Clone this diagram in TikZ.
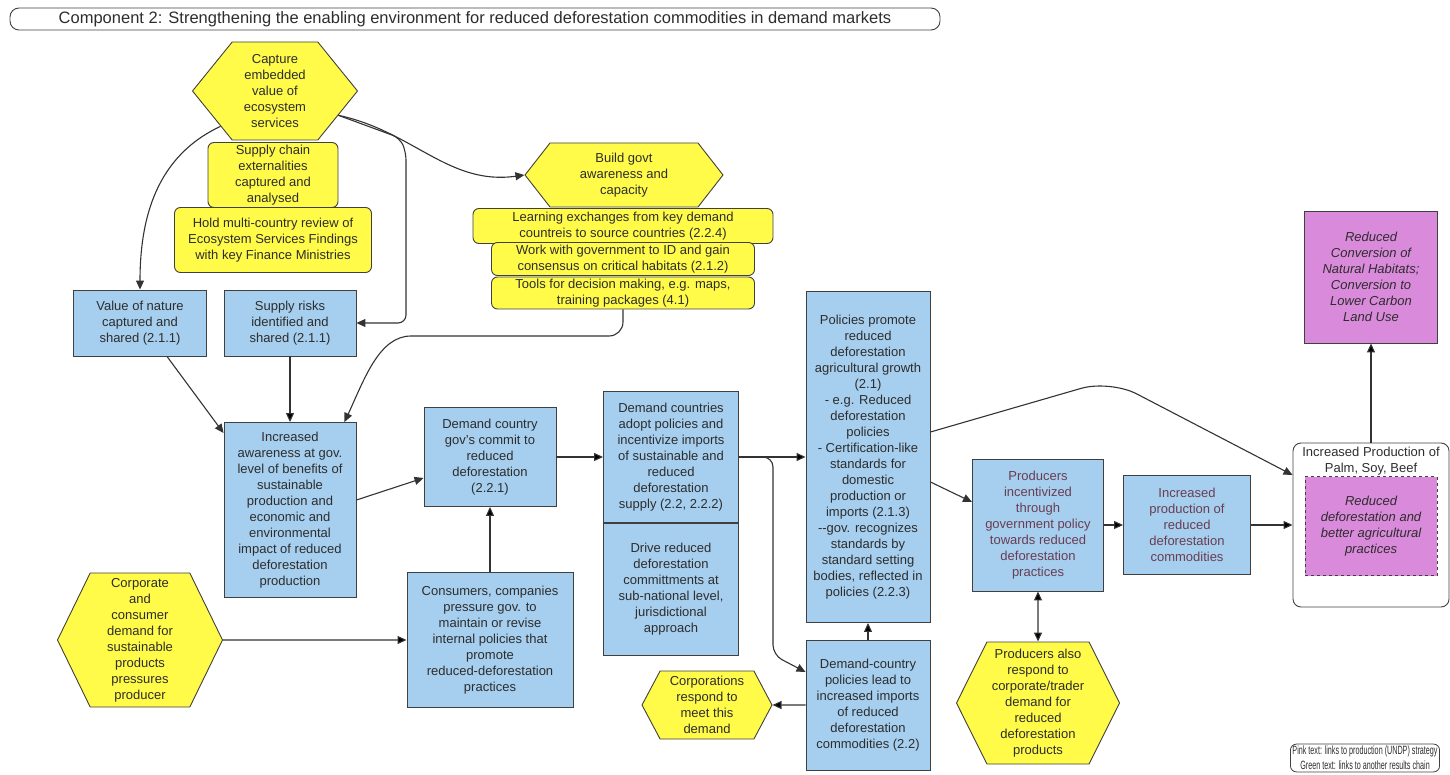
\documentclass[tikz,border=0pt]{standalone}
\usepackage{fontspec}
\setmainfont{Liberation Sans}
\usetikzlibrary{arrows.meta,shapes.symbols}
\definecolor{boxblue}{RGB}{166,206,238}
\definecolor{hexyellow}{RGB}{255,251,72}
\definecolor{outpink}{RGB}{218,138,218}
\definecolor{inktext}{RGB}{45,45,45}
\definecolor{pinkink}{RGB}{105,62,82}
\tikzset{
	bluebox/.style={draw=black!75, fill=boxblue, line width=0.9pt, align=center, inner sep=2pt, text=inktext},
	yelbox/.style={draw=black!75, fill=hexyellow, rounded corners=6pt, line width=0.9pt, align=center, inner sep=1pt, text=inktext},
	hexa/.style={signal, signal to=east and west, signal pointer angle=#1, draw=black!75, fill=hexyellow, line width=0.9pt, align=center, inner sep=0pt, text=inktext},
	pinkbox/.style={draw=black!75, fill=outpink, line width=0.9pt, align=center, inner sep=2pt, text=inktext, font=\fontsize{13}{16}\selectfont\itshape},
	conn/.style={->, draw=black!80, line width=1.1pt}
}

\begin{document}
\begin{tikzpicture}[x=1pt, y=-1pt, >={Triangle[length=9pt,width=8pt]}, every node/.style={font=\fontsize{13}{16}\selectfont}]
	\useasboundingbox (0,0) rectangle (1450,775);
	\node[draw=black!75, line width=0.9pt, rounded corners=9pt, minimum width=930pt, minimum height=22pt, inner sep=0pt, font=\fontsize{16.5}{18}\selectfont, text=inktext] (title) at (475,19) {Component 2: Strengthening the enabling environment for reduced deforestation commodities in demand markets};

	\node[hexa=102, minimum width=165pt, minimum height=98pt] (cap) at (275,91) {Capture\\embedded\\value of\\ecosystem\\services};
	\node[yelbox, minimum width=130pt, minimum height=65pt] (supch) at (273,175) {Supply chain\\externalities\\captured and\\analysed};
	\node[yelbox, minimum width=197pt, minimum height=65pt] (review) at (273,240) {Hold multi-country review of\\Ecosystem Services Findings\\with key Finance Ministries};
	\node[hexa=104, minimum width=198pt, minimum height=64pt] (build) at (624,175) {Build govt\\awareness and\\capacity};
	\node[yelbox, minimum width=300pt, minimum height=35pt] (learn) at (623,226) {Learning exchanges from key demand\\countreis to source countries (2.2.4)};
	\node[yelbox, minimum width=263pt, minimum height=33pt] (work) at (623,259) {Work with government to ID and gain\\consensus on critical habitats (2.1.2)};
	\node[yelbox, minimum width=263pt, minimum height=32pt] (tools) at (623,293) {Tools for decision making, e.g. maps,\\training packages (4.1)};

	\node[bluebox, minimum width=133pt, minimum height=66pt] (valnat) at (140,323) {Value of nature\\captured and\\shared (2.1.1)};
	\node[bluebox, minimum width=132pt, minimum height=66pt] (suprisk) at (290,323) {Supply risks\\identified and\\shared (2.1.1)};
	\node[bluebox, minimum width=132pt, minimum height=175pt] (aware) at (290,510) {Increased\\awareness at gov.\\level of benefits of\\sustainable\\production and\\economic and\\environmental\\impact of reduced\\deforestation\\production};
	\node[hexa=128, minimum width=165pt, minimum height=134pt] (corp) at (140,640) {Corporate\\and\\consumer\\demand for\\sustainable\\products\\pressures\\producer};
	\node[bluebox, minimum width=132pt, minimum height=99pt] (commit) at (490,457) {Demand country\\gov's commit to\\reduced\\deforestation\\(2.2.1)};
	\node[bluebox, minimum width=166pt, minimum height=135pt] (consum) at (490,640) {Consumers, companies\\pressure gov. to\\maintain or revise\\internal policies that\\promote\\reduced-deforestation\\practices};
	\node[bluebox, minimum width=135pt, minimum height=131pt] (adopt) at (671,457) {Demand countries\\adopt policies and\\incentivize imports\\of sustainable and\\reduced\\deforestation\\supply (2.2, 2.2.2)};
	\node[bluebox, minimum width=135pt, minimum height=132pt] (drive) at (671,589) {Drive reduced\\deforestation\\committments at\\sub-national level,\\jurisdictional\\approach};
	\node[bluebox, minimum width=124pt, minimum height=331pt] (policies) at (868,457) {Policies promote\\reduced\\deforestation\\agricultural growth\\(2.1)\\- e.g. Reduced\\deforestation\\policies\\- Certification-like\\standards for\\domestic\\production or\\imports (2.1.3)\\-{}-gov. recognizes\\standards by\\standard setting\\bodies, reflected in\\policies (2.2.3)};
	\node[bluebox, minimum width=124pt, minimum height=130pt] (demcp) at (868,705) {Demand-country\\policies lead to\\increased imports\\of reduced\\deforestation\\commodities (2.2)};
	\node[hexa=124, minimum width=130pt, minimum height=68pt] (corpresp) at (707,705) {Corporations\\respond to\\meet this\\demand};
	\node[bluebox, text=pinkink, minimum width=131pt, minimum height=132pt] (prodinc) at (1038,525) {Producers\\incentivized\\through\\government policy\\towards reduced\\deforestation\\practices};
	\node[bluebox, text=pinkink, minimum width=127pt, minimum height=99pt] (incprod) at (1187,525) {Increased\\production of\\reduced\\deforestation\\commodities};
	\node[hexa=127, minimum width=163pt, minimum height=122pt] (prodalso) at (1038,703) {Producers also\\respond to\\corporate/trader\\demand for\\reduced\\deforestation\\products};
	\node[draw=black!75, line width=0.9pt, rounded corners=8pt, minimum width=156pt, minimum height=164pt] (palm) at (1371,525) {};
	\node[anchor=north, inner sep=1pt, align=center, text=inktext] (palmlbl) at ([yshift=-3pt]palm.north) {Increased Production of\\Palm, Soy, Beef};
	\node[pinkbox, dashed, minimum width=132pt, minimum height=99pt] (better) at (1371,526) {Reduced\\deforestation and\\better agricultural\\practices};
	\node[pinkbox, minimum width=133pt, minimum height=132pt] (habitat) at (1371,277) {Reduced\\Conversion of\\Natural Habitats;\\Conversion to\\Lower Carbon\\Land Use};
	\node[draw=black!75, line width=0.8pt, rounded corners=6pt, align=center, inner sep=2pt, text=inktext, font=\fontsize{12}{15}\selectfont] (legend) at (1365,758) {\scalebox{0.6}[1]{Pink text: links to production (UNDP) strategy}\\\scalebox{0.6}[1]{Green text: links to another results chain}};

	\path[conn]
		(suprisk) edge (aware)
		(corp) edge (consum)
		(consum) edge (commit)
		(commit) edge (adopt)
		(adopt) edge (policies)
		(demcp) edge (policies)
		(demcp) edge (corpresp)
		(prodinc) edge (incprod)
		(prodinc) edge[<->] (prodalso)
		(incprod) edge (palm)
		(palm) edge (habitat);
	\draw[conn] (cap.213) to[out=205,in=90] (valnat.north);
	\draw[conn, rounded corners=8pt] (cap.339) -- (400,138) -- (406,152) -- (406,323) -- (suprisk.east);
	\draw[conn] (cap.339) to[out=-12,in=188] (build.west);
	\draw[conn] ([xshift=27pt]valnat.south) -- ([yshift=-11pt]aware.north west);
	\draw[conn, rounded corners=14pt] (tools.south) |- (425,336) to[out=180,in=65] ([xshift=-12pt]aware.north east);
	\draw[conn] ([yshift=10pt]aware.east) -- ([yshift=-21pt]commit.west);
	\draw[conn, rounded corners=10pt] (adopt.east) -| (773,655) -- ([yshift=33pt]demcp.west);
	\draw[conn] ([yshift=-25pt]policies.east) -- ([yshift=23pt]prodinc.west);
	\draw[conn, rounded corners=30pt] ([yshift=25pt]policies.east) -- (1110,380) -- ([yshift=50pt]palm.west);
\end{tikzpicture}
\end{document}
